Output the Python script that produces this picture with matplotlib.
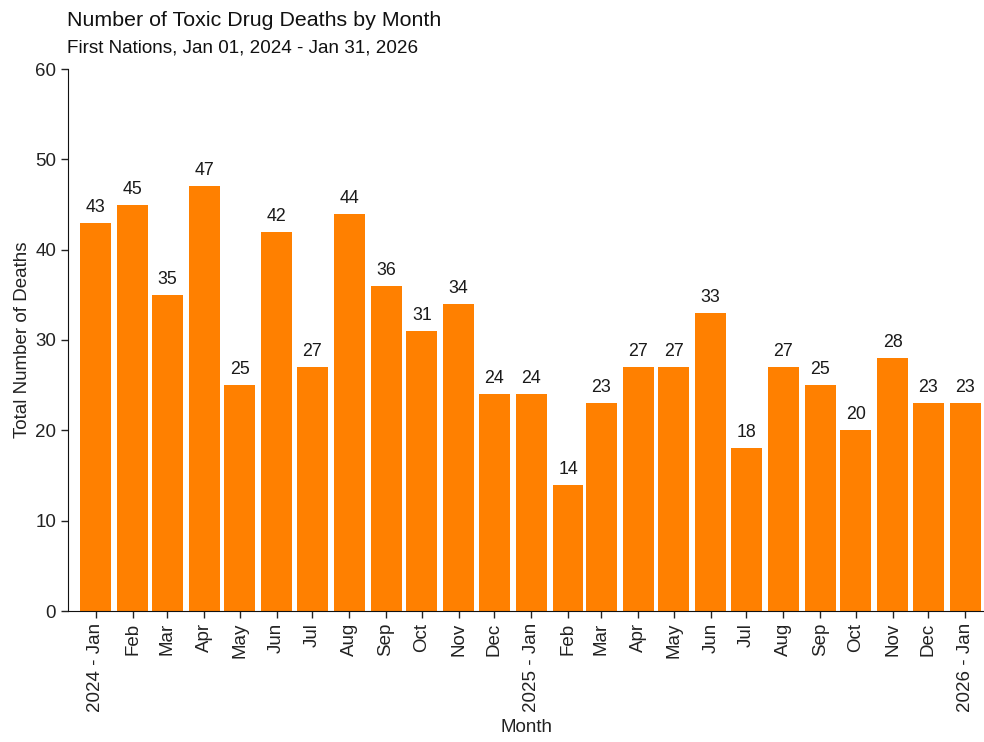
import datetime as dt
import matplotlib
matplotlib.use("Agg")
import matplotlib.pyplot as plt
import matplotlib.dates as mdates

plt.rcParams['font.family'] = ['Liberation Sans', 'DejaVu Sans']

# données
months = ["2024 - Jan", "Feb", "Mar", "Apr", "May", "Jun", "Jul", "Aug", "Sep", "Oct", "Nov", "Dec",
          "2025 - Jan", "Feb", "Mar", "Apr", "May", "Jun", "Jul", "Aug", "Sep", "Oct", "Nov", "Dec",
          "2026 - Jan"]
deaths = [43, 45, 35, 47, 25, 42, 27, 44, 36, 31, 34, 24,
          24, 14, 23, 27, 27, 33, 18, 27, 25, 20, 28, 23,
          23]

dates = []
for i in range(len(months)):
    y = 2024 + i // 12
    m = i % 12 + 1
    dates.append(dt.date(y, m, 1))
x = mdates.date2num(dates)

fig = plt.figure(figsize=(9.84, 7.42), dpi=100)
ax = fig.add_axes([68 / 984, 131 / 742, (986 - 68) / 984, (611 - 69) / 742])

ax.bar(x, deaths, width=26, color="#FF8000", edgecolor="none")
for xi, v in zip(x, deaths):
    ax.annotate(str(v), (xi, v), xytext=(0, 5), textcoords="offset points",
                ha="center", va="bottom", fontsize=12.8, color="#1a1a1a")

ax.set_xlim(x[0] - 23.5, x[-1] + 17.5)
ax.set_ylim(0, 60)
ax.set_yticks(range(0, 61, 10))
ax.set_xticks(x)
ax.set_xticklabels(months, rotation=90, fontsize=13.5, color="#222222")
ax.tick_params(axis="y", labelsize=13.5, colors="#222222")
ax.tick_params(direction="out", length=5, width=1, color="#222222")

for s in ["top", "right"]:
    ax.spines[s].set_visible(False)
ax.spines["left"].set_color("#111111")
ax.spines["bottom"].set_color("#111111")

ax.set_ylabel("Total Number of Deaths", fontsize=13.5, color="#222222", labelpad=3)
ax.set_xlabel("Month", fontsize=13.5, color="#222222", labelpad=5)

fig.text(67 / 984, 1 - 20 / 742, "Number of Toxic Drug Deaths by Month", fontsize=15.4,
         va="center", ha="left", color="#111111")
fig.text(67 / 984, 1 - 48 / 742, "First Nations, Jan 01, 2024 - Jan 31, 2026", fontsize=13.6,
         va="center", ha="left", color="#111111")

fig.savefig("out.png", dpi=100)
